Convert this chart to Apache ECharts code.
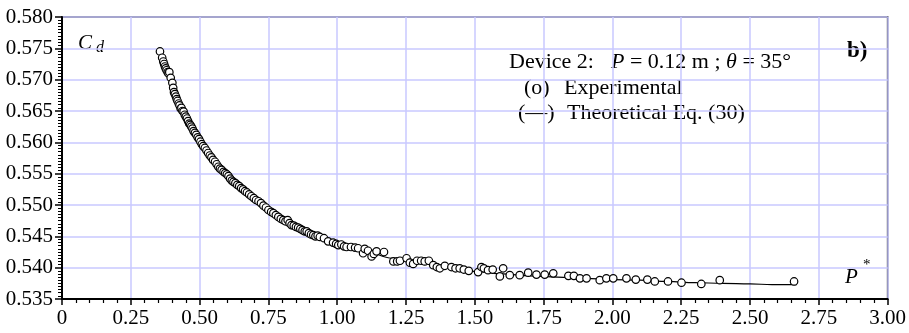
<!DOCTYPE html>
<html>
<head>
<meta charset="utf-8">
<script src="https://cdn.jsdelivr.net/npm/echarts@6.0.0/dist/echarts.min.js"></script>
<style>
  html, body { margin: 0; padding: 0; background: #fff; }
  #chart { width: 909px; height: 333px; }
</style>
</head>
<body>
<div id="chart"></div>
<script>
// tick labels
var xLabels = ['0', '0.25', '0.50', '0.75', '1.00', '1.25', '1.50', '1.75', '2.00', '2.25', '2.50', '2.75', '3.00'];
var yLabels = ['0.535', '0.540', '0.545', '0.550', '0.555', '0.560', '0.565', '0.570', '0.575', '0.580'];

// experimental points (o)
var expX = [0.356, 0.364, 0.368, 0.371, 0.374, 0.377, 0.380, 0.384, 0.387, 0.390, 0.395, 0.401, 0.404, 0.407, 0.410,
  0.414, 0.417, 0.420, 0.424, 0.427, 0.431, 0.434, 0.438, 0.442, 0.446, 0.450, 0.454, 0.458, 0.462, 0.466,
  0.470, 0.474, 0.478, 0.483, 0.488, 0.493, 0.498, 0.503, 0.508, 0.513, 0.519, 0.525, 0.531, 0.537, 0.543,
  0.549, 0.556, 0.562, 0.568, 0.574, 0.580, 0.587, 0.593, 0.599, 0.605, 0.611, 0.617, 0.623, 0.630, 0.637,
  0.644, 0.651, 0.658, 0.665, 0.672, 0.680, 0.688, 0.697, 0.705, 0.714, 0.723, 0.732, 0.741, 0.750, 0.760,
  0.768, 0.777, 0.786, 0.795, 0.804, 0.812, 0.820, 0.827, 0.834, 0.842, 0.850, 0.858, 0.866, 0.874, 0.882,
  0.889, 0.897, 0.905, 0.913, 0.921, 0.929, 0.937, 0.952, 0.967, 0.985, 0.996, 1.004, 1.015, 1.025, 1.034,
  1.050, 1.065, 1.076, 1.094, 1.100, 1.112, 1.125, 1.133, 1.143, 1.170, 1.204, 1.218, 1.228, 1.252, 1.264,
  1.276, 1.290, 1.305, 1.318, 1.333, 1.349, 1.362, 1.373, 1.391, 1.415, 1.430, 1.445, 1.460, 1.478, 1.512,
  1.524, 1.533, 1.548, 1.565, 1.591, 1.603, 1.627, 1.663, 1.694, 1.724, 1.754, 1.785, 1.840, 1.860, 1.882,
  1.906, 1.954, 1.978, 2.003, 2.051, 2.085, 2.127, 2.154, 2.202, 2.251, 2.323, 2.390, 2.660];
var expY = [0.5745, 0.5735, 0.5729, 0.5725, 0.5721, 0.5718, 0.5715, 0.5712, 0.5710, 0.5712, 0.5703, 0.5695, 0.5687, 0.5680, 0.5677,
  0.5673, 0.5669, 0.5666, 0.5662, 0.5659, 0.5654, 0.5655, 0.5650, 0.5649, 0.5644, 0.5641, 0.5638, 0.5634, 0.5630, 0.5628,
  0.5625, 0.5622, 0.5618, 0.5615, 0.5612, 0.5608, 0.5605, 0.5601, 0.5597, 0.5594, 0.5591, 0.5587, 0.5583, 0.5579, 0.5576,
  0.5572, 0.5569, 0.5565, 0.5561, 0.5558, 0.5556, 0.5553, 0.5551, 0.5549, 0.5546, 0.5542, 0.5539, 0.5537, 0.5535, 0.5532,
  0.5530, 0.5527, 0.5525, 0.5522, 0.5520, 0.5517, 0.5514, 0.5511, 0.5508, 0.5506, 0.5503, 0.5499, 0.5496, 0.5492, 0.5489,
  0.5487, 0.5484, 0.5481, 0.5478, 0.5476, 0.5474, 0.5476, 0.5471, 0.5468, 0.5467, 0.5465, 0.5464, 0.5462, 0.5460, 0.5458,
  0.5458, 0.5455, 0.5453, 0.5452, 0.5450, 0.5451, 0.5449, 0.5447, 0.5442, 0.5440, 0.5438, 0.5436, 0.5437, 0.5434, 0.5433,
  0.5433, 0.5432, 0.5431, 0.5423, 0.5430, 0.5427, 0.5418, 0.5422, 0.5426, 0.5425, 0.5410, 0.5410, 0.5411, 0.5415, 0.5408,
  0.5406, 0.5411, 0.5411, 0.5410, 0.5411, 0.5404, 0.5401, 0.5399, 0.5403, 0.5401, 0.5399, 0.5399, 0.5397, 0.5395, 0.5393,
  0.5401, 0.5399, 0.5396, 0.5397, 0.5386, 0.5399, 0.5388, 0.5388, 0.5392, 0.5389, 0.5389, 0.5391, 0.5387, 0.5387, 0.5383,
  0.5383, 0.5380, 0.5383, 0.5383, 0.5383, 0.5381, 0.5381, 0.5378, 0.5378, 0.5376, 0.5374, 0.5380, 0.5378];

// theoretical curve, Eq. (30)
var theoX = [0.356, 0.38, 0.40, 0.42, 0.45, 0.50, 0.55, 0.60, 0.65, 0.70, 0.75, 0.80, 0.85, 0.90, 0.95, 1.00,
  1.10, 1.20, 1.30, 1.40, 1.50, 1.60, 1.70, 1.80, 1.90, 2.00, 2.10, 2.20, 2.30, 2.40, 2.50, 2.58, 2.67];
var theoY = [0.5745, 0.5716, 0.5696, 0.5675, 0.5645, 0.5603, 0.5572, 0.5550, 0.5528, 0.5510, 0.5492, 0.5477, 0.5465, 0.5455, 0.5446, 0.5438,
  0.5426, 0.5415, 0.5407, 0.5400, 0.5394, 0.5390, 0.5387, 0.5385, 0.5383, 0.5381, 0.5380, 0.5378, 0.5376, 0.5375, 0.5374, 0.5373, 0.5373];

var serif = "'Liberation Serif', 'Times New Roman', serif";

var pairs = function(xs, ys) {
  var out = [];
  for (var i = 0; i < xs.length; i++) out.push([xs[i], ys[i]]);
  return out;
};

var chart = echarts.init(document.getElementById('chart'));
chart.setOption({
  animation: false,
  backgroundColor: '#fff',
  grid: { left: 62, right: 21, top: 17, bottom: 34, show: true, borderColor: '#000', borderWidth: 1.5, backgroundColor: 'transparent' },
  xAxis: {
    type: 'value', min: 0, max: 3, interval: 0.25,
    axisLine: { show: true, onZero: false, lineStyle: { color: '#000', width: 2 } },
    axisTick: { show: true, length: 6, lineStyle: { color: '#000', width: 1.5 } },
    minorTick: { show: true, splitNumber: 5, length: 4, lineStyle: { color: '#000', width: 1.2 } },
    axisLabel: { color: '#000', fontFamily: serif, fontSize: 21, margin: 9,
      formatter: function(v, i) { return xLabels[i]; } },
    splitLine: { show: true, lineStyle: { color: '#c8c8ff', width: 1.5 } }
  },
  yAxis: {
    type: 'value', min: 0.535, max: 0.580, interval: 0.005,
    axisLine: { show: true, onZero: false, lineStyle: { color: '#000', width: 2 } },
    axisTick: { show: true, length: 7, lineStyle: { color: '#000', width: 1.5 } },
    minorTick: { show: true, splitNumber: 10, length: 4, lineStyle: { color: '#000', width: 1 } },
    axisLabel: { color: '#000', fontFamily: serif, fontSize: 21, margin: 9,
      formatter: function(v, i) { return yLabels[i]; } },
    splitLine: { show: true, lineStyle: { color: '#c8c8ff', width: 1.5 } }
  },
  series: [{
    name: 'Theoretical Eq. (30)',
    type: 'line',
    data: pairs(theoX, theoY),
    smooth: 0.4,
    smoothMonotone: 'x',
    showSymbol: false,
    z: 2,
    lineStyle: { color: '#000', width: 1.2 }
  }, {
    name: 'Experimental',
    type: 'scatter',
    data: pairs(expX, expY),
    symbol: 'circle',
    symbolSize: 7.5,
    z: 3,
    itemStyle: { color: '#fff', borderColor: '#000', borderWidth: 1.2, opacity: 1 }
  }],
  graphic: [
    { type: 'text', left: 78, top: 33, style: { text: 'C', font: 'italic 21px ' + serif, fill: '#000' } },
    { type: 'text', left: 96, top: 40, style: { text: 'd', font: 'italic 16px ' + serif, fill: '#000' } },
    { type: 'text', left: 845, top: 267, style: { text: 'P', font: 'italic 21px ' + serif, fill: '#000' } },
    { type: 'text', left: 863, top: 258, style: { text: '*', font: '15px ' + serif, fill: '#000' } },
    { type: 'text', left: 847, top: 40, style: { text: 'b)', font: 'bold 23px ' + serif, fill: '#000' } },
    { type: 'text', left: 509, top: 51, style: { text: 'Device 2:', font: '22px ' + serif, fill: '#000' } },
    { type: 'text', left: 611, top: 51, style: {
        text: '{i|P}{n| = 0.12 m ; }{i|θ}{n| = 35°}',
        rich: {
          i: { font: 'italic 22px ' + serif, fill: '#000' },
          n: { font: '22px ' + serif, fill: '#000' }
        } } },
    { type: 'text', left: 524, top: 77, style: { text: '(o)', font: '22px ' + serif, fill: '#000' } },
    { type: 'text', left: 564, top: 77, style: { text: 'Experimental', font: '22px ' + serif, fill: '#000' } },
    { type: 'text', left: 518, top: 102, style: { text: '(—)', font: '22px ' + serif, fill: '#000' } },
    { type: 'text', left: 567, top: 102, style: { text: 'Theoretical Eq. (30)', font: '22px ' + serif, fill: '#000' } }
  ]
});
</script>
</body>
</html>
